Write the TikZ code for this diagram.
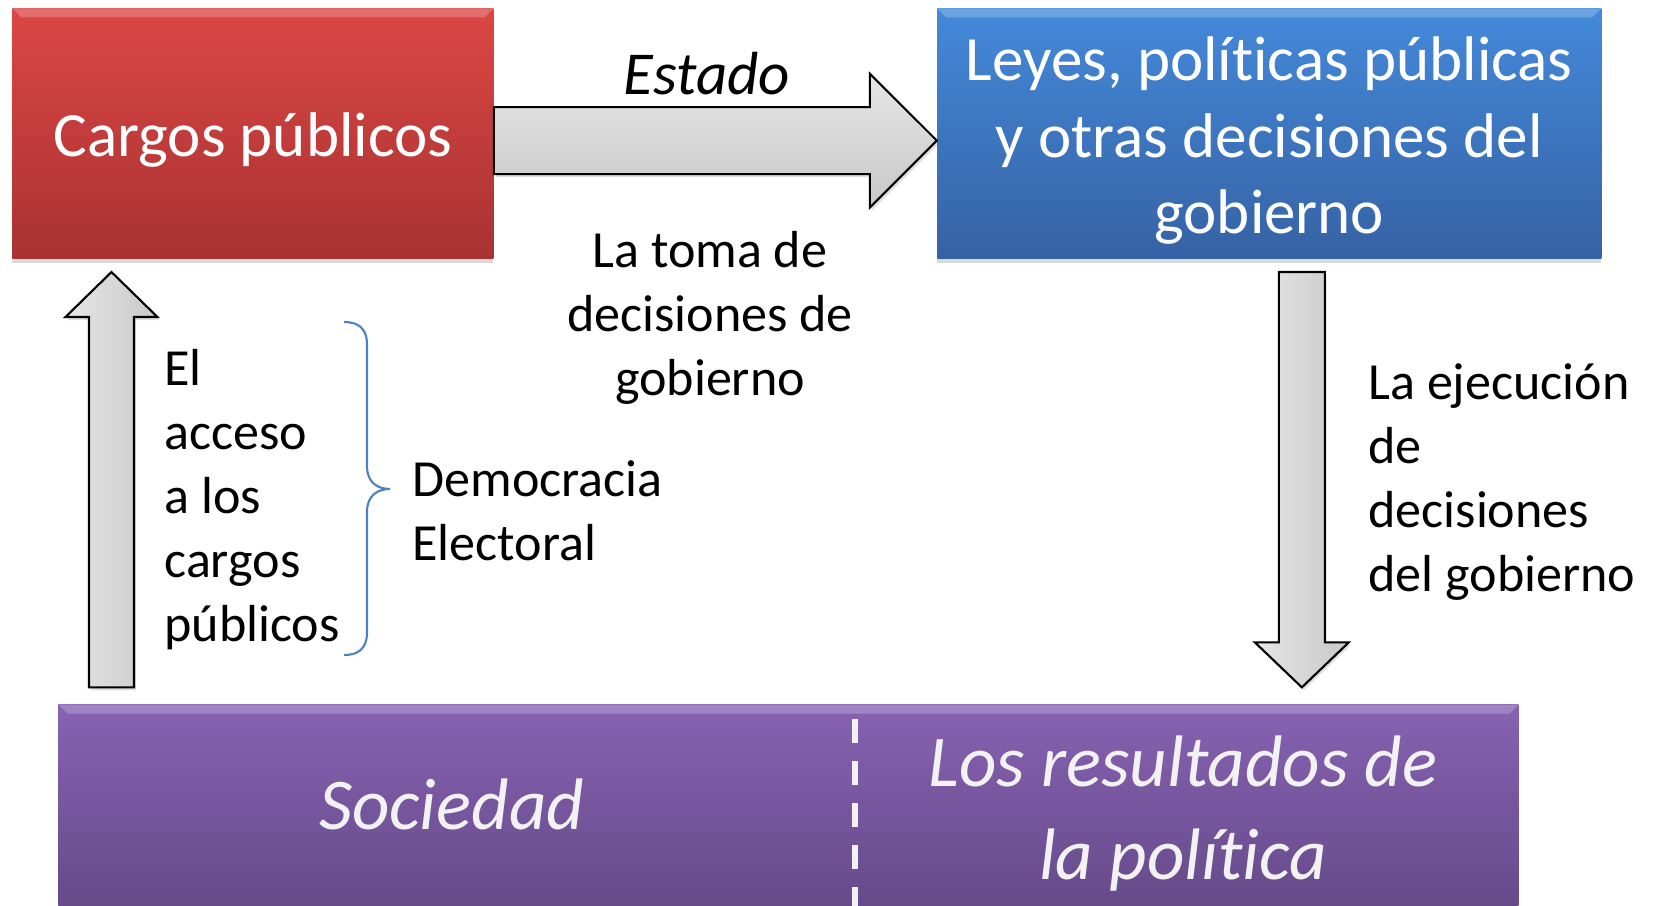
\documentclass[tikz,border=0pt]{standalone}
\usepackage{fontspec}
\setmainfont{Carlito}[Ligatures=NoCommon]
\usetikzlibrary{positioning, calc, shadows}

\definecolor{redTop}{RGB}{219,71,68}
\definecolor{redBottom}{RGB}{168,50,50}
\definecolor{blueTop}{RGB}{68,137,218}
\definecolor{blueBottom}{RGB}{54,98,164}
\definecolor{purpleTop}{RGB}{135,98,178}
\definecolor{purpleBottom}{RGB}{102,74,138}
\definecolor{arrowLight}{RGB}{230,230,230}
\definecolor{arrowDark}{RGB}{200,200,200}
\definecolor{braceBlue}{RGB}{79,129,189}
\definecolor{softWhite}{RGB}{242,242,242}

\begin{document}
\begin{tikzpicture}[
    font=\fontsize{24.7}{30.3}\selectfont,
    % Styles
    bevel/.style={
        path picture={
            \fill[white, opacity=0.22]
                (path picture bounding box.north west) -- (path picture bounding box.north east)
                -- ([shift={(-0.15,-0.15)}]path picture bounding box.north east)
                -- ([shift={(0.15,-0.15)}]path picture bounding box.north west) -- cycle;
        }
    },
    box/.style={
        rectangle,
        minimum height=4.167cm,
        bevel,
        drop shadow={opacity=0.3, shadow xshift=0pt, shadow yshift=-0.07cm}
    },
    boxtext/.style={
        inner sep=0pt,
        align=center,
        text=white,
        font=\fontsize{29.9}{36.2}\selectfont
    },
    societybox/.style={
        rectangle,
        top color=purpleTop,
        bottom color=purpleBottom,
        bevel,
        drop shadow={opacity=0.3, shadow xshift=0pt, shadow yshift=-0.07cm}
    },
    blockarrow/.style={
        draw=black,
        line width=1pt,
        line join=miter,
        drop shadow={opacity=0.25, shadow xshift=0.03cm, shadow yshift=-0.05cm}
    },
    label/.style={align=left, inner sep=0pt},
    society/.style={text=softWhite, font=\fontsize{34.6}{44}\selectfont\itshape, align=center, inner sep=0pt}
]
    \useasboundingbox (0,0) rectangle (27.6,15.1);

    % --- STATE BOXES ---
    \node[box, top color=redTop, bottom color=redBottom, minimum width=8.017cm, anchor=north west]
        (cargos) at (0.2,14.967) {};
    \node[box, top color=blueTop, bottom color=blueBottom, minimum width=11.067cm, right=7.383cm of cargos]
        (leyes) {};
    \node[boxtext] (cargosLbl) at ([yshift=-0.11cm]cargos.center) {Cargos públicos};
    \node[boxtext] (leyesLbl) at ([yshift=-0.12cm]leyes.center) {Leyes, políticas públicas\\y otras decisiones del\\gobierno};

    % --- SOCIETY BAR ---
    \node[societybox, minimum width=24.333cm, minimum height=3.35cm, anchor=south west]
        (sociedad) at (0.967,0) {};
    \coordinate (divTop) at ($(sociedad.north west)+(13.283,-0.25)$);
    \draw[softWhite, line width=2.6pt, dash pattern=on 0.4cm off 0.3cm] (divTop) -- (divTop |- sociedad.south);

    \node[society, anchor=base] (sociedadLbl) at ($(sociedad.south west)+(6.56,1.267)$) {Sociedad};
    \node[society] (resultadosLbl) at ($(sociedad.south west)+(18.75,1.54)$) {Los resultados de\\la política};

    % --- ARROWS ---
    % Estado
    \coordinate (estadoTip) at ([yshift=-0.12cm]leyes.west);
    \draw[blockarrow, top color=arrowLight, bottom color=arrowDark]
        ($(cargos.east |- estadoTip)+(0,0.558)$) -- ($(estadoTip)+(-1.117,0.558)$) -- ++(0,0.558)
        -- (estadoTip) -- ($(estadoTip)+(-1.117,-1.117)$) -- ++(0,0.558)
        -- ($(cargos.east |- estadoTip)+(0,-0.558)$) -- cycle;

    % acceso (up)
    \coordinate (accesoTip) at ($(cargos.south west)+(1.658,-0.22)$);
    \coordinate (accesoBase) at ($(accesoTip |- sociedad.north)+(0,0.28)$);
    \draw[blockarrow, left color=arrowLight, right color=arrowDark]
        ($(accesoBase)+(-0.375,0)$) -- ($(accesoTip)+(-0.375,-0.75)$) -- ++(-0.392,0)
        -- (accesoTip) -- ($(accesoTip)+(0.767,-0.75)$) -- ++(-0.392,0)
        -- ($(accesoBase)+(0.375,0)$) -- cycle;

    % ejecucion (down)
    \coordinate (ejecTop) at ($(leyes.south west)+(6.083,-0.22)$);
    \coordinate (ejecTip) at ($(ejecTop |- sociedad.north)+(0,0.28)$);
    \draw[blockarrow, left color=arrowLight, right color=arrowDark]
        ($(ejecTop)+(-0.383,0)$) -- ($(ejecTip)+(-0.383,0.75)$) -- ++(-0.4,0)
        -- (ejecTip) -- ($(ejecTip)+(0.783,0.75)$) -- ++(-0.4,0)
        -- ($(ejecTop)+(0.383,0)$) -- cycle;

    % --- LABELS ---
    \node[font=\fontsize{28.9}{34}\selectfont\itshape, anchor=base] (estadoLbl) at (11.783,13.517) {Estado};
    \node[align=center, inner sep=0pt] (tomaLbl) at (11.833,9.8) {La toma de\\decisiones de\\gobierno};
    \node[label, anchor=west] (accesoLbl) at (2.733,6.775) {El\\acceso\\a los\\cargos\\públicos};
    \node[label, anchor=west] (ejecucionLbl) at (22.8,7.067) {La ejecución\\de\\decisiones\\del gobierno};

    % brace
    \coordinate (braceTip) at (6.5,6.95);
    \draw[braceBlue, line width=1pt]
        (5.733,9.733) .. controls (5.95,9.733) and (6.117,9.65) .. (6.117,9.35)
        -- (6.117,7.33) .. controls (6.117,7.05) and (6.3,6.95) .. (braceTip)
        .. controls (6.3,6.95) and (6.117,6.85) .. (6.117,6.57)
        -- (6.117,4.567) .. controls (6.117,4.267) and (5.95,4.183) .. (5.733,4.183);
    \node[label, anchor=west] (democraciaLbl) at ($(braceTip)+(0.367,-0.36)$) {Democracia\\Electoral};

\end{tikzpicture}
\end{document}
